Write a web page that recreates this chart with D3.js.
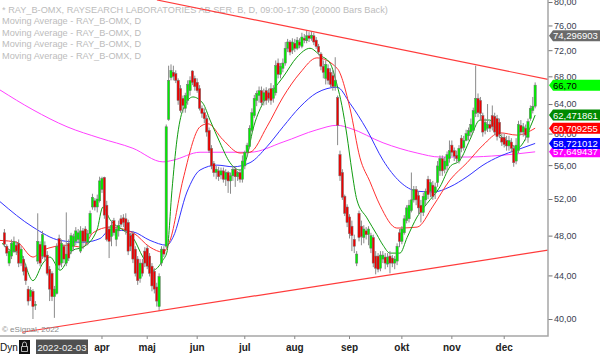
<!DOCTYPE html>
<html>
<head>
<meta charset="utf-8">
<script src="https://cdnjs.cloudflare.com/ajax/libs/d3/7.8.5/d3.min.js"></script>
<style>
  body { margin: 0; background: #fff; }
  svg { display: block; font-family: "Liberation Sans", Arial, sans-serif; }
</style>
</head>
<body>
<div id="chart"></div>
<script>
// Daily bars from 2022-02-03 (bar 0) to 2022-12-20
const opens = [
  48.3, 46.9, 45.2, 45.9, 46.4, 47.0, 47.2, 45.2, 45.6, 44.8,
  42.7, 42.0, 42.5, 41.2, 45.4, 47.1, 45.9, 47.0, 46.0, 44.6,
  44.2, 42.0, 42.3, 47.7, 45.2, 46.9, 45.2, 47.2, 46.4, 46.9,
  47.4, 47.6, 46.4, 48.5, 48.7, 47.3, 48.2, 51.1, 51.8, 51.1,
  51.8, 53.1, 54.5, 51.3, 48.7, 47.9, 49.6, 47.6, 48.5, 49.8,
  49.9, 49.8, 49.4, 48.0, 48.2, 46.6, 45.6, 43.7, 45.2, 46.4,
  46.7, 45.9, 44.9, 44.4, 42.9, 41.1, 45.2, 46.6, 46.9, 61.9,
  67.8, 68.6, 68.4, 67.4, 66.2, 64.8, 63.4, 64.5, 65.9, 68.8,
  67.7, 67.1, 66.2, 63.4, 62.8, 62.0, 60.4, 58.1, 56.2, 55.1,
  55.3, 54.8, 55.3, 54.3, 55.1, 54.1, 54.7, 55.5, 54.6, 55.1,
  54.3, 55.9, 57.6, 58.3, 60.4, 62.4, 64.5, 65.2, 65.9, 64.5,
  65.9, 65.6, 66.2, 64.8, 65.6, 70.0, 68.3, 69.2, 70.0, 72.3,
  73.3, 72.0, 73.1, 72.3, 73.3, 72.6, 73.9, 73.5, 74.3, 73.9,
  74.3, 73.6, 72.6, 71.4, 69.5, 67.7, 69.2, 68.6, 68.1, 66.5,
  64.9, 57.3, 55.1, 52.3, 51.1, 50.0, 49.0, 47.6, 45.2, 50.4,
  49.0, 47.8, 48.5, 48.1, 46.7, 47.8, 45.9, 45.9, 44.7, 45.6,
  45.8, 45.1, 45.9, 45.7, 45.2, 45.4, 48.3, 47.4, 48.3, 49.6,
  49.8, 50.7, 51.9, 53.1, 52.4, 51.3, 50.5, 51.9, 54.3, 52.9,
  53.6, 52.7, 53.9, 55.3, 56.8, 55.5, 55.9, 56.8, 58.5, 57.8,
  57.2, 56.5, 59.4, 58.2, 59.1, 59.7, 60.2, 60.4, 62.7, 64.8,
  64.5, 62.4, 60.4, 60.7, 61.2, 62.4, 62.3, 62.0, 61.5, 59.5,
  59.5, 59.1, 58.4, 58.9, 58.1, 56.5, 57.8, 61.1, 60.2, 60.7,
  59.5, 62.0, 63.1, 63.7
];
const highs = [
  48.7, 47.1, 46.6, 47.6, 47.9, 47.4, 47.6, 46.9, 45.9, 45.1,
  43.0, 42.9, 42.7, 41.6, 50.4, 47.4, 48.5, 47.4, 46.4, 44.9,
  44.4, 43.0, 47.2, 48.1, 47.6, 47.1, 50.5, 47.6, 48.3, 48.2,
  48.9, 48.7, 49.0, 48.8, 49.0, 48.6, 50.7, 52.6, 52.1, 52.5,
  54.6, 54.6, 54.6, 51.8, 49.0, 49.6, 49.9, 49.0, 49.6, 50.2,
  50.3, 50.4, 49.7, 48.3, 48.5, 46.9, 45.9, 45.6, 45.6, 46.8,
  47.0, 46.2, 45.2, 44.7, 43.3, 44.2, 46.9, 46.9, 61.2, 69.6,
  69.8, 69.6, 68.9, 67.7, 66.7, 65.2, 65.6, 67.4, 68.0, 68.9,
  68.1, 67.7, 66.7, 63.8, 63.4, 62.5, 60.8, 58.5, 56.5, 55.9,
  55.8, 55.7, 55.7, 55.5, 55.3, 55.1, 55.9, 55.9, 55.3, 55.5,
  57.2, 57.8, 58.8, 61.1, 63.4, 65.3, 65.9, 66.5, 66.5, 66.2,
  66.4, 66.2, 67.0, 66.7, 70.4, 70.7, 70.0, 70.7, 73.3, 73.8,
  73.6, 73.9, 73.8, 74.1, 73.9, 74.8, 74.6, 75.2, 74.9, 75.0,
  74.8, 74.1, 73.0, 71.7, 70.4, 70.4, 69.8, 69.2, 68.9, 70.9,
  65.2, 57.8, 55.5, 52.5, 51.4, 50.3, 49.6, 48.1, 46.4, 50.7,
  49.6, 49.1, 48.9, 49.0, 48.3, 48.1, 46.4, 46.2, 46.4, 46.4,
  46.2, 46.2, 46.4, 46.0, 45.9, 47.2, 48.7, 49.0, 50.2, 51.3,
  51.9, 55.1, 53.5, 53.5, 52.9, 51.9, 52.7, 53.2, 54.7, 54.3,
  54.1, 53.9, 56.5, 57.2, 57.2, 57.0, 57.7, 59.1, 59.1, 58.2,
  57.8, 58.5, 59.8, 59.7, 60.5, 60.8, 62.0, 63.5, 69.6, 65.5,
  65.0, 62.8, 62.0, 64.0, 61.7, 63.8, 62.8, 62.5, 62.0, 60.0,
  60.0, 59.7, 59.7, 59.4, 58.5, 59.4, 61.7, 61.8, 61.4, 61.2,
  62.0, 63.8, 65.0, 67.1
];
const lows = [
  46.8, 45.9, 44.9, 45.6, 46.2, 46.0, 44.8, 44.9, 44.0, 43.1,
  41.2, 41.6, 40.0, 40.8, 45.1, 44.9, 45.6, 45.5, 44.0, 41.6,
  41.6, 40.1, 42.2, 44.6, 44.8, 45.2, 44.9, 45.4, 46.1, 46.4,
  47.0, 47.2, 46.2, 46.6, 47.0, 47.0, 47.9, 50.8, 50.7, 50.5,
  51.6, 52.7, 49.8, 47.4, 45.7, 46.9, 48.0, 46.9, 47.9, 48.9,
  48.9, 48.1, 46.0, 46.4, 45.2, 43.9, 43.1, 43.3, 43.9, 44.8,
  44.6, 43.9, 42.5, 42.3, 41.1, 40.7, 44.9, 45.8, 46.7, 61.7,
  67.4, 67.4, 67.0, 63.9, 62.8, 62.8, 62.8, 63.9, 65.2, 66.7,
  65.9, 65.6, 63.1, 62.1, 61.4, 59.6, 57.5, 55.5, 54.6, 54.3,
  54.1, 54.3, 53.9, 53.5, 52.7, 52.6, 54.1, 53.4, 54.1, 53.9,
  53.9, 55.5, 57.1, 58.1, 60.2, 62.1, 63.7, 64.2, 63.7, 63.8,
  63.9, 64.2, 63.9, 64.2, 65.2, 67.7, 67.7, 68.6, 69.6, 71.7,
  71.2, 71.4, 71.7, 72.0, 72.3, 72.3, 73.1, 73.1, 73.3, 73.5,
  72.8, 72.2, 71.2, 68.9, 67.7, 66.8, 66.8, 66.4, 65.9, 65.9,
  58.5, 54.1, 51.9, 50.1, 48.9, 47.7, 46.4, 46.2, 44.9, 47.4,
  47.0, 47.2, 47.6, 47.0, 46.2, 44.8, 44.1, 44.3, 44.4, 45.2,
  44.6, 44.8, 44.2, 44.8, 44.6, 45.0, 46.8, 47.1, 48.1, 49.3,
  49.4, 50.5, 51.6, 51.3, 50.2, 49.4, 50.1, 51.3, 52.0, 52.2,
  51.9, 52.0, 53.4, 54.7, 54.7, 55.0, 55.3, 56.3, 57.1, 56.5,
  56.3, 56.2, 57.6, 57.8, 59.0, 59.1, 59.6, 60.1, 62.2, 62.2,
  61.8, 59.6, 59.9, 60.2, 60.2, 60.4, 59.8, 59.1, 59.4, 58.4,
  58.2, 57.8, 57.8, 57.6, 55.8, 56.1, 57.5, 59.8, 59.6, 59.1,
  58.8, 61.7, 62.7, 63.4
];
const closes = [
  47.1, 46.2, 46.4, 47.2, 47.4, 46.4, 45.2, 46.6, 44.4, 43.5,
  41.6, 42.6, 41.1, 41.3, 47.4, 45.2, 48.1, 45.8, 44.2, 42.7,
  42.0, 42.7, 46.9, 45.0, 47.2, 45.6, 46.1, 45.7, 48.0, 47.9,
  48.5, 48.3, 48.5, 47.4, 47.4, 48.2, 50.4, 52.2, 51.1, 52.0,
  54.1, 54.4, 50.2, 47.6, 47.4, 49.1, 48.3, 48.7, 49.1, 49.2,
  49.4, 48.5, 46.4, 46.9, 45.6, 44.2, 43.5, 45.2, 44.2, 45.2,
  44.9, 44.2, 43.0, 42.7, 41.6, 43.9, 46.6, 46.1, 60.9, 67.4,
  68.9, 68.0, 67.4, 64.5, 63.1, 63.8, 65.2, 66.8, 67.4, 67.1,
  66.5, 65.9, 63.4, 62.7, 62.0, 60.2, 57.8, 55.9, 55.1, 55.5,
  54.6, 55.3, 54.3, 55.1, 54.1, 54.7, 55.5, 54.6, 55.1, 54.3,
  56.5, 57.6, 58.5, 60.7, 62.8, 64.8, 65.5, 65.9, 64.2, 65.6,
  64.5, 64.8, 64.5, 66.2, 69.6, 68.3, 69.5, 70.0, 72.3, 73.3,
  71.7, 73.3, 72.3, 73.6, 72.8, 74.1, 73.6, 74.3, 73.9, 74.4,
  73.3, 72.6, 71.7, 69.5, 68.6, 69.8, 67.4, 66.8, 66.5, 67.4,
  61.1, 54.7, 52.2, 50.4, 49.4, 48.2, 48.0, 46.9, 46.1, 47.8,
  47.9, 48.7, 48.1, 48.7, 48.0, 45.2, 44.7, 44.6, 46.0, 46.0,
  45.2, 45.8, 45.2, 45.2, 45.6, 46.9, 47.4, 48.7, 49.8, 51.0,
  51.3, 51.9, 53.1, 51.9, 51.0, 50.5, 52.3, 52.9, 52.5, 53.9,
  52.3, 53.4, 55.9, 56.8, 55.3, 56.5, 57.3, 57.8, 57.6, 57.1,
  56.8, 58.1, 58.1, 59.1, 60.0, 60.4, 61.2, 63.1, 64.8, 62.8,
  62.7, 60.2, 61.5, 61.2, 60.7, 60.9, 60.2, 59.6, 59.9, 58.9,
  58.6, 58.4, 59.1, 58.1, 56.3, 58.5, 61.2, 60.2, 60.9, 59.8,
  61.6, 63.4, 63.7, 66.7
];

// Moving averages, as [bar, price]
const maGreen = [[-1, 47.2], [2.35, 46.5], [6.55, 46.2], [12, 43.5], [16.2, 45.2], [19.2, 45.8],
  [23.4, 44.5], [28.8, 46.5], [33, 46.8], [38.9, 48.6], [41.4, 51.1], [44.4, 49.7], [49.8, 48.6],
  [54, 47.8], [58.2, 45.8], [62.4, 44.5], [66.6, 45.5], [68.3, 46.3], [70.4, 53.0], [72.5, 59.2],
  [75, 63.2], [79.2, 65.0], [83.4, 64.1], [86.4, 61.8], [90.6, 58.8], [94.8, 56.3], [99, 55.4],
  [101.9, 57.0], [104.4, 60.5], [108.6, 64.1], [112.9, 66.0], [117.1, 67.9], [122.9, 70.9],
  [128.4, 72.3], [132.6, 71.2], [136.8, 70.0], [139.8, 66.7], [141.8, 63.8], [143.9, 59.8],
  [146, 55.3], [148.1, 51.9], [152.3, 49.9], [156.5, 48.1], [159.1, 47.0], [162, 46.2],
  [166.2, 46.2], [169.2, 47.8], [173.4, 50.0], [177.6, 51.5], [183, 53.4], [187.2, 55.8],
  [191.4, 56.6], [195.6, 59.2], [199.8, 61.8], [204, 61.8], [208.2, 59.8], [212.4, 58.8],
  [215.4, 58.1], [218, 58.8], [221, 60.9], [223, 62.47]];
const maRed = [[-1.85, 47.5], [5.3, 47.3], [12, 45.8], [16.2, 46.5], [26.3, 47.0], [33, 46.8],
  [37.2, 48.3], [44.4, 48.9], [54, 48.3], [61.2, 46.8], [66.6, 46.3], [69.6, 47.5], [75, 54.2],
  [82.2, 60.9], [85.5, 61.3], [91.8, 59.2], [99, 57.5], [103.2, 57.6], [110.3, 60.9],
  [117.1, 65.0], [124.2, 68.5], [131.3, 70.8], [139.8, 69.2], [145.2, 63.4], [149.4, 56.9],
  [153.6, 54.0], [157.8, 51.3], [164.9, 48.8], [173.4, 48.9], [180.1, 51.2], [187.2, 54.2],
  [194.4, 56.3], [201.1, 58.5], [208.2, 60.1], [215.4, 59.8], [223, 60.71]];
const maBlue = [[-1.85, 51.7], [12, 48.9], [23.4, 47.5], [33, 47.3], [40.2, 47.7], [44.4, 48.6],
  [54, 48.4], [61.2, 47.5], [68.3, 47.0], [70.8, 47.8], [76.7, 52.8], [82.2, 55.4], [89.3, 56.0],
  [96.1, 55.8], [103.2, 56.3], [110.3, 58.3], [117.1, 60.9], [124.2, 63.6], [131.3, 65.6],
  [139.8, 66.4], [145.2, 64.1], [152.3, 60.5], [159.1, 56.6], [166.2, 54.0], [173.4, 52.9],
  [180.1, 52.8], [187.2, 53.4], [194.4, 54.6], [201.1, 56.0], [208.2, 57.1], [215.4, 57.9],
  [223, 58.72]];
const maMagenta = [[-1.85, 66.0], [12, 63.2], [26.3, 60.9], [40.2, 59.4], [54, 58.1],
  [66.6, 56.4], [70.8, 56.6], [82.2, 57.6], [103.2, 57.6], [117.1, 58.9], [131.3, 60.5],
  [139.8, 61.1], [145.2, 60.7], [159.1, 58.8], [173.4, 57.5], [183, 57.0], [194.4, 57.0],
  [208.2, 57.2], [223, 57.65]];

// Trend lines, as [bar, price]
const trendUpper = [[64.1, 80.35], [228.4, 67.55]];
const trendLower = [[7.4, 38.86], [228.4, 46.5]];

// Axis categories and labels
const monthLabels = ["apr", "maj", "jun", "jul", "aug", "sep", "okt", "nov", "dec"];
const monthStarts = [41, 60, 81, 101, 122, 145, 167, 188, 210];
const priceTicks = [80, 76, 72, 68, 64, 60, 56, 52, 48, 44, 40];

// Value tags on the price axis (drawn in this order)
const tagValues = [74.296903, 57.649437, 58.721012, 60.709255, 62.471861, 66.70];
const tagLabels = ["74,296903", "57,649437", "58,721012", "60,709255", "62,471861", "66,70"];
const tagColors = ["#6b6b6b", "#ff00ff", "#0000ff", "#ff0000", "#008a00", "#00ff00"];
const tagText = ["#fff", "#fff", "#fff", "#fff", "#fff", "#000"];

const headerLines = [
  "* RAY_B-OMX, RAYSEARCH LABORATORIES AB SER. B, D, 09:00-17:30 (20000 Bars Back)",
  "Moving Average - RAY_B-OMX, D",
  "Moving Average - RAY_B-OMX, D",
  "Moving Average - RAY_B-OMX, D",
  "Moving Average - RAY_B-OMX, D"
];

class CandleChart {
  constructor () {
    this.w = 600;
    this.h = 354;
    this.plotW = 548;
    this.plotH = 336;
    this.bars = d3.range(closes.length);
  }

  render () {
    this.initializeSVG();
    this.computeScaleFns();
    this.addHeader();
    this.addMovingAverages();
    this.addCandles();
    this.addTrendLines();
    this.addFrame();
    this.addPriceAxis();
    this.addTimeAxis();
    this.addTags();
  }

  initializeSVG () {
    this.svg = d3.select("#chart").append("svg")
      .attr("width", this.w)
      .attr("height", this.h);

    this.svg.append("rect")
      .attr("width", this.w).attr("height", this.h)
      .attr("fill", "#fff");

    this.svg.append("clipPath").attr("id", "plot-clip")
      .append("rect")
      .attr("width", this.plotW).attr("height", this.plotH);
  }

  computeScaleFns () {
    // bar index -> x, 2.38px per trading day
    this.x = d3.scaleLinear()
      .domain([-1.85, 228.4])
      .range([0, this.plotW]);

    // log price scale
    this.y = d3.scaleLog()
      .domain([40, 80])
      .range([319, 2]);
  }

  addHeader () {
    this.svg.append("g")
      .selectAll("text")
      .data(headerLines)
      .join("text")
      .attr("x", 2)
      .attr("y", (d, i) => 12.5 + i * 11.6)
      .attr("font-size", 9.2)
      .attr("fill", "#bcbcbc")
      .text(d => d);
  }

  addMovingAverages () {
    let line = d3.line()
      .x(d => this.x(d[0]))
      .y(d => this.y(d[1]))
      .curve(d3.curveMonotoneX);

    let g = this.svg.append("g").attr("clip-path", "url(#plot-clip)");

    [[maMagenta, "#ff40ff"], [maBlue, "#3333ff"], [maRed, "#ff3030"], [maGreen, "#109c10"]]
      .forEach(([pts, col]) => {
        g.append("path")
          .attr("d", line(pts))
          .attr("fill", "none")
          .attr("stroke", col)
          .attr("stroke-width", 1);
      });
  }

  addCandles () {
    let g = this.svg.append("g").attr("clip-path", "url(#plot-clip)");
    let bodyW = 2.3;

    let candle = g.selectAll(".candle")
      .data(this.bars)
      .join("g")
      .attr("class", "candle");

    // Wicks
    candle.append("line")
      .attr("x1", i => this.x(i)).attr("x2", i => this.x(i))
      .attr("y1", i => this.y(Math.max(highs[i], opens[i], closes[i])))
      .attr("y2", i => this.y(Math.min(lows[i], opens[i], closes[i])))
      .attr("stroke", "#8a8a8a")
      .attr("stroke-width", 1);

    // Bodies
    candle.append("rect")
      .attr("x", i => this.x(i) - bodyW / 2)
      .attr("width", bodyW)
      .attr("y", i => this.y(Math.max(opens[i], closes[i])))
      .attr("height", i => Math.max(1, Math.abs(this.y(opens[i]) - this.y(closes[i]))))
      .attr("fill", i => closes[i] >= opens[i] ? "#00ee00" : "#ee0000")
      .attr("stroke", "#707070")
      .attr("stroke-width", 0.5);
  }

  addTrendLines () {
    let line = d3.line()
      .x(d => this.x(d[0]))
      .y(d => this.y(d[1]));

    let g = this.svg.append("g").attr("clip-path", "url(#plot-clip)");
    [trendUpper, trendLower].forEach(pts => {
      g.append("path")
        .attr("d", line(pts))
        .attr("fill", "none")
        .attr("stroke", "#ff3b3b")
        .attr("stroke-width", 1.2);
    });
  }

  addFrame () {
    this.svg.append("path")
      .attr("d", `M0,${this.plotH}H${this.plotW}V0`)
      .attr("fill", "none")
      .attr("stroke", "#a6a6a6")
      .attr("stroke-width", 1.5);

    this.svg.append("text")
      .attr("x", 2).attr("y", 332)
      .attr("font-size", 8)
      .attr("fill", "#8a8a8a")
      .text("\u00a9 eSignal, 2022");
  }

  addPriceAxis () {
    let fmt = v => d3.format(".2f")(v).replace(".", ",");
    let axis = d3.axisRight(this.y)
      .tickValues(priceTicks)
      .tickFormat(fmt)
      .tickSize(4)
      .tickPadding(1.5);

    let g = this.svg.append("g")
      .attr("transform", `translate(${this.plotW + 0.5}, 0)`)
      .call(axis);

    g.select(".domain").remove();
    g.selectAll(".tick line").attr("stroke", "#777");
    g.selectAll(".tick text")
      .attr("font-size", 9)
      .attr("font-family", "\"Liberation Sans\", Arial, sans-serif")
      .attr("fill", "#3a4150");
  }

  addTimeAxis () {
    let g = this.svg.append("g");

    g.selectAll(".m-tick")
      .data(monthStarts)
      .join("line")
      .attr("class", "m-tick")
      .attr("x1", i => this.x(i)).attr("x2", i => this.x(i))
      .attr("y1", this.plotH).attr("y2", this.plotH + 3)
      .attr("stroke", "#888");

    g.selectAll(".m-label")
      .data(monthStarts)
      .join("text")
      .attr("class", "m-label")
      .attr("x", i => this.x(i))
      .attr("y", 351)
      .attr("text-anchor", "middle")
      .attr("font-size", 10)
      .attr("font-weight", "bold")
      .attr("fill", "#222")
      .text((d, k) => monthLabels[k]);

    // Bottom left controls
    g.append("text")
      .attr("x", 0).attr("y", 351)
      .attr("font-size", 10)
      .attr("fill", "#111")
      .text("Dyn");

    g.append("rect")
      .attr("x", 19).attr("y", 340).attr("width", 11).attr("height", 14)
      .attr("fill", "#111");
    g.append("path")
      .attr("d", "M22.5,346.5v-2.5a2,2 0 0 1 4,0v2.5M21.5,346.5h6v5h-6z")
      .attr("fill", "none").attr("stroke", "#ddd").attr("stroke-width", 0.8);

    g.append("rect")
      .attr("x", 36).attr("y", 339.5).attr("width", 52).attr("height", 14.5)
      .attr("fill", "#505050");
    g.append("text")
      .attr("x", 62).attr("y", 351)
      .attr("text-anchor", "middle")
      .attr("font-size", 9.6)
      .attr("fill", "#f2f2f2")
      .text("2022-02-03");
  }

  addTags () {
    let tags = this.svg.append("g")
      .selectAll(".tag")
      .data(tagValues)
      .join("g")
      .attr("class", "tag")
      .attr("transform", v => `translate(${this.plotW + 1}, ${this.y(v)})`);

    tags.append("path")
      .attr("d", "M0,0L4,-5.5H52V5.5H4Z")
      .attr("fill", (d, k) => tagColors[k]);

    tags.append("text")
      .attr("x", 4)
      .attr("y", 3.4)
      .attr("font-size", 9.5)
      .attr("fill", (d, k) => tagText[k])
      .text((d, k) => tagLabels[k]);
  }
}

new CandleChart().render();
</script>
</body>
</html>
